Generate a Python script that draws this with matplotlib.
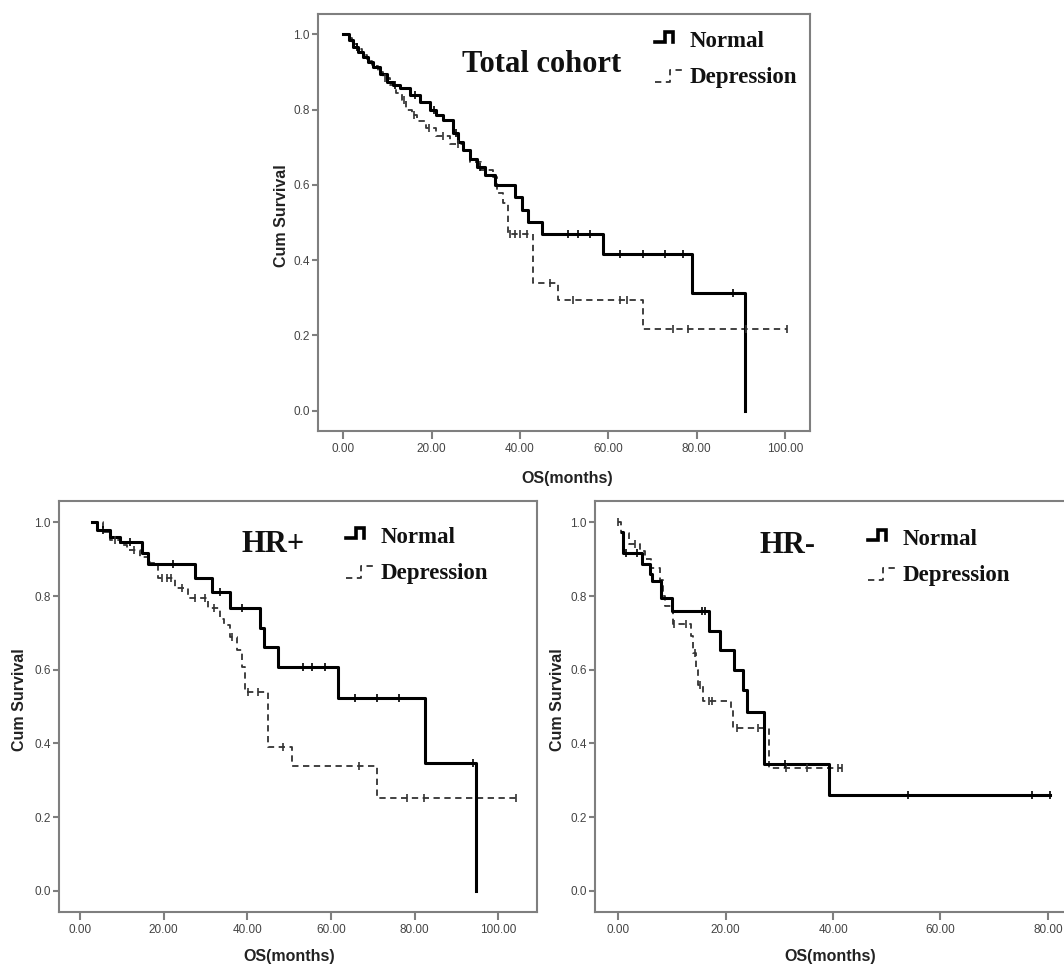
import matplotlib
matplotlib.use('Agg')
import matplotlib.pyplot as plt
from matplotlib.lines import Line2D
import numpy as np

# ---------------- data (months, cumulative survival) ----------------
# Total cohort
tot_norm_t = [0, 1.2, 2.3, 3.4, 4.5, 5.6, 6.8, 8.3, 9.8, 11.3, 12.8, 15.1, 17.4, 19.6, 21.1,
              22.6, 24.9, 26.0, 27.2, 28.7, 30.2, 32.2, 34.3, 38.9, 40.4, 41.9, 44.9, 58.9, 79.0, 90.9]
tot_norm_s = [1.0, .985, .967, .953, .94, .927, .914, .894, .874, .865, .857, .839, .821, .799, .786,
              .772, .737, .715, .693, .67, .648, .625, .60, .569, .533, .502, .469, .416, .312, 0.0]
tot_norm_cens = [3.0, 11.8, 16.2, 20.5, 25.5, 31.0, 50.9, 53.1, 55.9, 62.6, 67.9, 72.8, 76.9, 88.3]

tot_dep_t = [0, 1.0, 2.0, 3.0, 4.2, 5.4, 6.6, 7.8, 9.0, 10.5, 12.0, 13.2, 14.3, 15.5, 16.6,
             18.8, 21.1, 24.2, 27.1, 28.7, 31.3, 33.9, 34.7, 36.2, 37.4, 42.9, 48.7, 67.8]
tot_dep_s = [1.0, .99, .975, .96, .945, .93, .915, .90, .885, .865, .845, .825, .80, .785, .77,
             .75, .73, .708, .69, .662, .64, .62, .578, .551, .469, .340, .294, .218]
tot_dep_end = 100.4
tot_dep_cens = [9.5, 13.8, 16.0, 19.5, 22.5, 26.0, 37.7, 38.9, 40.0, 41.6, 46.8, 52.0,
                62.6, 64.2, 74.7, 78.1, 91.3, 100.4]

# HR+
hrp_norm_t = [2.8, 4.0, 7.2, 9.6, 14.8, 16.3, 27.5, 31.5, 35.9, 43.1, 43.9, 47.4, 61.8, 82.5, 94.7]
hrp_norm_s = [1.0, .979, .96, .947, .916, .886, .848, .812, .767, .712, .662, .608, .522, .347, 0.0]
hrp_norm_cens = [5.6, 12.0, 22.3, 33.5, 38.7, 53.3, 55.4, 58.6, 65.8, 71.0, 76.2, 94.0]

hrp_dep_t = [2.8, 5.5, 7.2, 9.5, 11.2, 14.4, 16.7, 18.7, 22.7, 25.9, 30.7, 33.5, 34.5, 35.9,
             37.5, 38.7, 39.5, 45.0, 50.7, 71.0]
hrp_dep_s = [1.0, .975, .952, .94, .925, .907, .889, .848, .821, .794, .767, .739, .721, .689,
             .653, .608, .540, .39, .338, .253]
hrp_dep_end = 104.3
hrp_dep_cens = [8.5, 13.0, 19.6, 20.8, 21.8, 24.5, 27.5, 29.8, 32.0, 36.4, 40.3, 42.5, 48.5,
                66.8, 78.3, 82.3, 104.3]

# HR-
hrn_norm_t = [0.6, 0.9, 4.4, 5.9, 6.2, 8.0, 10.0, 16.8, 18.9, 21.5, 23.3, 23.9, 27.1, 39.2]
hrn_norm_s = [.973, .918, .886, .859, .841, .795, .759, .704, .654, .600, .545, .486, .345, .259]
hrn_norm_end = 80.4
hrn_norm_cens = [1.5, 3.5, 15.6, 16.2, 31.0, 54.0, 77.0, 80.4]

hrn_dep_t = [0, 0.5, 2.0, 4.1, 5.0, 6.1, 7.7, 8.4, 8.7, 10.2, 13.6, 14.0, 14.4, 14.8, 15.8,
             20.9, 21.4, 28.1]
hrn_dep_s = [1.0, .97, .941, .923, .90, .877, .845, .80, .773, .723, .691, .645, .60, .559, .514,
             .491, .441, .332]
hrn_dep_end = 41.6
hrn_dep_cens = [0, 3.2, 10.3, 12.7, 14.2, 15.3, 16.8, 17.4, 22.1, 26.0, 31.3, 35.1, 40.9, 41.6]

y_ticks = [0.0, 0.2, 0.4, 0.6, 0.8, 1.0]
x_ticks_100 = [0, 20, 40, 60, 80, 100]
x_ticks_80 = [0, 20, 40, 60, 80]
legend_labels = ["Normal", "Depression"]
titles = ["Total cohort", "HR+", "HR-"]

# ---------------- figure ----------------
W, H = 1064, 965
fig = plt.figure(figsize=(W / 100, H / 100), dpi=100)
fig.patch.set_facecolor('white')

SANS = ['Liberation Sans', 'DejaVu Sans']
SERIF = ['Liberation Serif', 'DejaVu Serif']
SPINE = '#7f7f7f'


def fx(x):
    return x / W


def fy(y):
    return 1 - y / H


def make_axes(left, top, right, bottom, xlim, ylim, xticks):
    ax = fig.add_axes([fx(left), fy(bottom), (right - left) / W, (bottom - top) / H])
    ax.set_xlim(*xlim)
    ax.set_ylim(*ylim)
    ax.set_xticks(xticks)
    ax.set_xticklabels([f"{v:.2f}" for v in xticks])
    ax.set_yticks(y_ticks)
    ax.set_yticklabels([f"{v:.1f}" for v in y_ticks])
    for sp in ax.spines.values():
        sp.set_color(SPINE)
        sp.set_linewidth(1.5)
    ax.tick_params(axis='x', direction='out', length=5.5, width=1.5, color=SPINE, pad=3,
                   labelsize=8.5, labelcolor='#444444')
    ax.tick_params(axis='y', direction='out', length=4, width=1.5, color=SPINE, pad=2,
                   labelsize=8.5, labelcolor='#444444')
    for lab in ax.get_xticklabels() + ax.get_yticklabels():
        lab.set_family(SANS)
    return ax


def draw_curve(ax, t, s, end, cens, normal):
    tt, ss = list(t), list(s)
    if end is not None and end > tt[-1]:
        tt.append(end)
        ss.append(ss[-1])
    if normal:
        ax.step(tt, ss, where='post', color='black', lw=2.2, zorder=3)
        col = 'black'
    else:
        ax.step(tt, ss, where='post', color='#333333', lw=1.3, dashes=(3.5, 2.5), zorder=2)
        col = '#333333'
    ta, sa = np.array(t), np.array(s)
    idx = np.searchsorted(ta, np.array(cens), side='right') - 1
    ax.plot(cens, sa[idx], ls='none', marker='|', ms=6, mew=1.2, color=col, zorder=4)


def legend(sx, ny):
    tx = sx + 35
    fig.add_artist(Line2D([fx(sx), fx(sx + 10), fx(sx + 10), fx(sx + 18.3), fx(sx + 18.3)],
                          [fy(ny - 5), fy(ny - 5), fy(ny - 15), fy(ny - 15), fy(ny - 5)],
                          transform=fig.transFigure, color='black', lw=2.6,
                          solid_joinstyle='miter'))
    fig.add_artist(Line2D([fx(sx), fx(sx + 15), fx(sx + 15), fx(sx + 28)],
                          [fy(ny + 35), fy(ny + 35), fy(ny + 23.3), fy(ny + 23.3)],
                          transform=fig.transFigure, color='#333333', lw=1.3,
                          dashes=(3.5, 2.5)))
    fig.text(fx(tx), fy(ny), legend_labels[0], family=SERIF, weight='bold', fontsize=16.5,
             ha='left', va='baseline', color='#111111')
    fig.text(fx(tx), fy(ny + 36.3), legend_labels[1], family=SERIF, weight='bold',
             fontsize=16.5, ha='left', va='baseline', color='#111111')


def axis_labels(yl_xy, xl_xy):
    fig.text(fx(yl_xy[0]), fy(yl_xy[1]), "Cum Survival", family=SANS, weight='bold',
             fontsize=11.5, rotation=90, ha='center', va='center', color='#222222')
    fig.text(fx(xl_xy[0]), fy(xl_xy[1]), "OS(months)", family=SANS, weight='bold',
             fontsize=11.5, ha='center', va='center', color='#222222')


# Total cohort
ax1 = make_axes(318.3, 14, 810, 430.7, (-5.66, 105.7), (-0.053, 1.054), x_ticks_100)
draw_curve(ax1, tot_dep_t, tot_dep_s, tot_dep_end, tot_dep_cens, normal=False)
draw_curve(ax1, tot_norm_t, tot_norm_s, None, tot_norm_cens, normal=True)
fig.text(fx(461.7), fy(71.7), titles[0], family=SERIF, weight='bold', fontsize=22,
         ha='left', va='baseline', color='#111111')
legend(655, 46.7)
axis_labels((282, 216), (567, 478))

# HR+
ax2 = make_axes(59, 500.7, 536.7, 911.7, (-5.0, 109.2), (-0.057, 1.059), x_ticks_100)
draw_curve(ax2, hrp_dep_t, hrp_dep_s, hrp_dep_end, hrp_dep_cens, normal=False)
draw_curve(ax2, hrp_norm_t, hrp_norm_s, None, hrp_norm_cens, normal=True)
fig.text(fx(241.7), fy(551.7), titles[1], family=SERIF, weight='bold', fontsize=22,
         ha='left', va='baseline', color='#111111')
legend(346, 543)
axis_labels((20, 700), (289, 956))

# HR-
ax3 = make_axes(595, 500.7, 1071.5, 911.7, (-4.34, 84.4), (-0.057, 1.059), x_ticks_80)
draw_curve(ax3, hrn_dep_t, hrn_dep_s, hrn_dep_end, hrn_dep_cens, normal=False)
draw_curve(ax3, hrn_norm_t, hrn_norm_s, hrn_norm_end, hrn_norm_cens, normal=True)
fig.text(fx(760), fy(553), titles[2], family=SERIF, weight='bold', fontsize=22,
         ha='left', va='baseline', color='#111111')
legend(868, 545)
axis_labels((558, 700), (830, 956))

fig.savefig('out.png', dpi=100, facecolor='white')
